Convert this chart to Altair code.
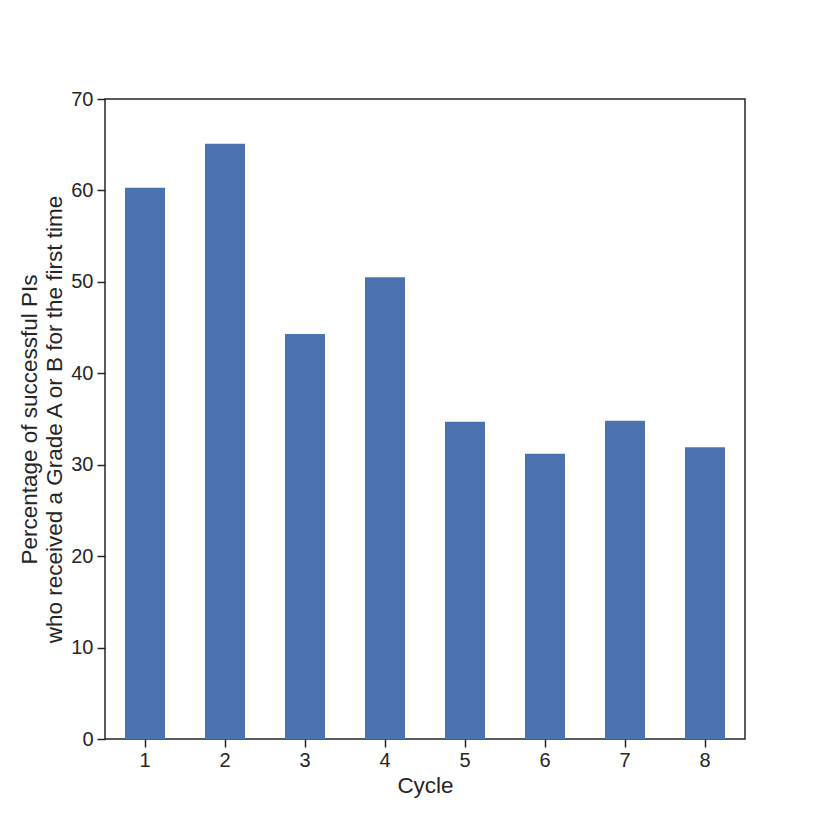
import altair as alt
import pandas as pd

cycles = ["1", "2", "3", "4", "5", "6", "7", "8"]
percent = [60.3, 65.1, 44.3, 50.5, 34.7, 31.2, 34.8, 31.9]

df = pd.DataFrame({"Cycle": cycles, "Percent": percent})

FONT = "Liberation Sans"

chart = alt.Chart(df).mark_bar(color="#4c72b0").encode(
    x=alt.X("Cycle:N", sort=cycles,
            scale=alt.Scale(paddingInner=0.5, paddingOuter=0.25),
            axis=alt.Axis(title="Cycle", labelAngle=0, labelPadding=3, titlePadding=4)),
    y=alt.Y("Percent:Q",
            scale=alt.Scale(domain=[0, 70], nice=False),
            axis=alt.Axis(title=["Percentage of successful PIs",
                                 "who received a Grade A or B for the first time"],
                          values=[0, 10, 20, 30, 40, 50, 60, 70],
                          labelPadding=4, titlePadding=4)),
).properties(
    width=640, height=640,
    background="white",
    autosize=alt.AutoSizeParams(type="none"),
    padding={"left": 97, "top": 91, "right": 77, "bottom": 75},
).configure_view(
    stroke="#262626", strokeWidth=1.5
).configure_axis(
    grid=False, domain=False,
    tickColor="#262626", tickSize=8, tickWidth=1.5,
    labelFont=FONT, labelFontSize=20, labelColor="#262626",
    titleFont=FONT, titleFontSize=22.5, titleFontWeight="normal", titleColor="#262626",
    titleLineHeight=25,
)

chart.save("out.html", embed_options={"renderer": "svg", "actions": False})
